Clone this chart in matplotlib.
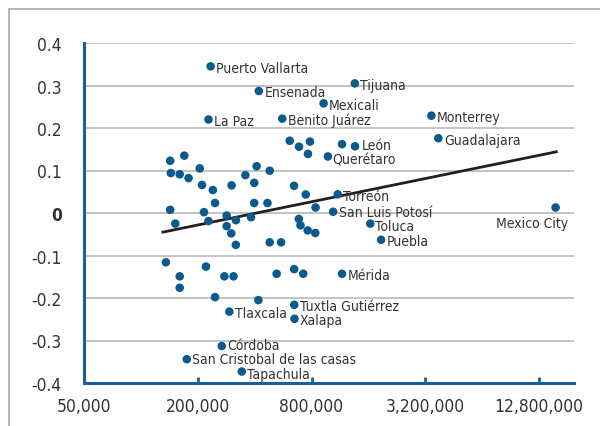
import matplotlib
matplotlib.use("Agg")
import matplotlib.pyplot as plt
from matplotlib import font_manager
from matplotlib.patches import Rectangle
from matplotlib.ticker import NullLocator

# the original uses a condensed face; take one if the system has it
fonts = font_manager.fontManager.ttflist
narrow = [f for f in fonts if f.stretch in ('condensed', 'semi-condensed')
          and f.style == 'normal']
if any(f.name == 'Liberation Sans Narrow' for f in fonts):
    plt.rcParams['font.family'] = ['Liberation Sans Narrow', 'DejaVu Sans']
    label_size, tick_size = 10, 12.5
elif narrow:
    plt.rcParams['font.family'] = [narrow[0].name, 'DejaVu Sans']
    plt.rcParams['font.stretch'] = narrow[0].stretch
    label_size, tick_size = 10, 12.5
else:
    plt.rcParams['font.family'] = ['Liberation Sans', 'DejaVu Sans']
    label_size, tick_size = 9.5, 12

# labelled cities: population (x) and value (y)
city_names = ["Puerto Vallarta", "Ensenada", "Tijuana", "Mexicali", "La Paz",
              "Benito Juárez", "Monterrey", "Guadalajara", "León", "Querétaro",
              "Torreón", "San Luis Potosí", "Toluca", "Puebla", "Mexico City",
              "Mérida", "Tuxtla Gutiérrez", "Xalapa", "Tlaxcala", "Córdoba",
              "San Cristobal de las casas", "Tapachula"]
city_pop = [234000, 421000, 1356000, 927000, 228000,
            560000, 3447000, 3750000, 1359000, 977000,
            1101000, 1041000, 1637000, 1868000, 15660000,
            1160000, 648000, 650000, 294000, 268000,
            175000, 342000]
city_val = [0.345, 0.287, 0.305, 0.258, 0.220,
            0.222, 0.229, 0.176, 0.157, 0.133,
            0.044, 0.003, -0.025, -0.063, 0.013,
            -0.143, -0.216, -0.249, -0.232, -0.313,
            -0.344, -0.373]

# unlabelled cities
other_pop = [142900, 169700, 144100, 160500, 178800, 204900, 210600, 240400,
             302000, 357300, 409800, 398000, 480700, 142900, 152100, 215700,
             246800, 227700, 284400, 284400, 300900, 318400, 318000, 382600,
             397600, 467600, 480700, 552000, 685200, 699200, 763400, 837400,
             840400, 745400, 646800, 613400, 686800, 784800, 766200, 1160000,
             135700, 160500, 160500, 221000, 276600, 309300, 246800, 418700,
             523000, 647600, 723200]
other_val = [0.123, 0.135, 0.094, 0.091, 0.082, 0.105, 0.066, 0.054,
             0.065, 0.089, 0.110, 0.071, 0.0995, 0.0075, -0.025, 0.002,
             0.0235, -0.019, -0.006, -0.031, -0.048, -0.017, -0.075, -0.010,
             0.0235, 0.0235, -0.069, -0.069, -0.014, -0.029, -0.041, -0.047,
             0.013, 0.0435, 0.064, 0.170, 0.156, 0.168, 0.139, 0.162,
             -0.116, -0.149, -0.176, -0.126, -0.149, -0.149, -0.198, -0.205,
             -0.143, -0.132, -0.143]

# trend line end points
trend_pop = [130800, 15800000]
trend_val = [-0.045, 0.144]

x_ticks = [50000, 200000, 800000, 3200000, 12800000]
x_tick_labels = ["50,000", "200,000", "800,000", "3,200,000", "12,800,000"]
y_ticks = [0.4, 0.3, 0.2, 0.1, 0, -0.1, -0.2, -0.3, -0.4]
y_tick_labels = ["0.4", "0.3", "0.2", "0.1", "0", "-0.1", "-0.2", "-0.3", "-0.4"]

blue = '#0b5a8e'
spine_blue = '#1a5f96'

# label nudges (points), the rest sit just right of their dot
nudge = {"León": (5, 1), "Querétaro": (3, -2.5), "Toluca": (3.5, -2),
         "San Luis Potosí": (4, 0), "Tapachula": (4, -1.5),
         "San Cristobal de las casas": (4, 0), "Córdoba": (4, 0.5)}

fig = plt.figure(figsize=(6.0, 4.27), dpi=100)
ax = fig.add_axes([84 / 600, 1 - 384 / 427, 490 / 600, 340 / 427])

fig.add_artist(Rectangle((9 / 600, -0.1), 1.2, 1.1 - 10 / 427, transform=fig.transFigure,
                         fill=False, edgecolor='#a8a8a8', lw=1.2))

ax.set_xscale('log')
ax.set_xlim(50000, 19600000)
ax.set_ylim(-0.4, 0.4)

for y in y_ticks:
    if y != -0.4:
        ax.axhline(y, color='#b3b3b3', lw=1.1, zorder=1)

ax.plot(trend_pop, trend_val, color='#231f20', lw=2.0, zorder=2)
ax.scatter(other_pop + city_pop, other_val + city_val, s=38, color=blue,
           edgecolors='none', zorder=3)

for name, x, y in zip(city_names, city_pop, city_val):
    if name == "Mexico City":
        ax.annotate(name, (x, y), xytext=(9, -6), textcoords='offset points',
                    ha='right', va='top', fontsize=label_size, color='#333333', zorder=4)
    else:
        ax.annotate(name, (x, y), xytext=nudge.get(name, (4, -1)), textcoords='offset points',
                    ha='left', va='center', fontsize=label_size, color='#333333', zorder=4)

for side in ['top', 'right']:
    ax.spines[side].set_visible(False)
for side in ['left', 'bottom']:
    ax.spines[side].set_color(spine_blue)
    ax.spines[side].set_linewidth(2.2)

ax.set_xticks(x_ticks)
ax.set_xticklabels(x_tick_labels)
ax.xaxis.set_minor_locator(NullLocator())
ax.set_yticks(y_ticks)
ax.set_yticklabels(y_tick_labels)
ax.tick_params(axis='x', direction='in', length=4, width=2, color=spine_blue,
               pad=10, labelsize=tick_size, labelcolor='#333333')
ax.tick_params(axis='y', length=0, pad=16, labelsize=tick_size, labelcolor='#333333')
for lbl in ax.get_yticklabels():
    if lbl.get_text() == "0":
        lbl.set_fontweight('bold')

fig.savefig("out.png", dpi=100)
